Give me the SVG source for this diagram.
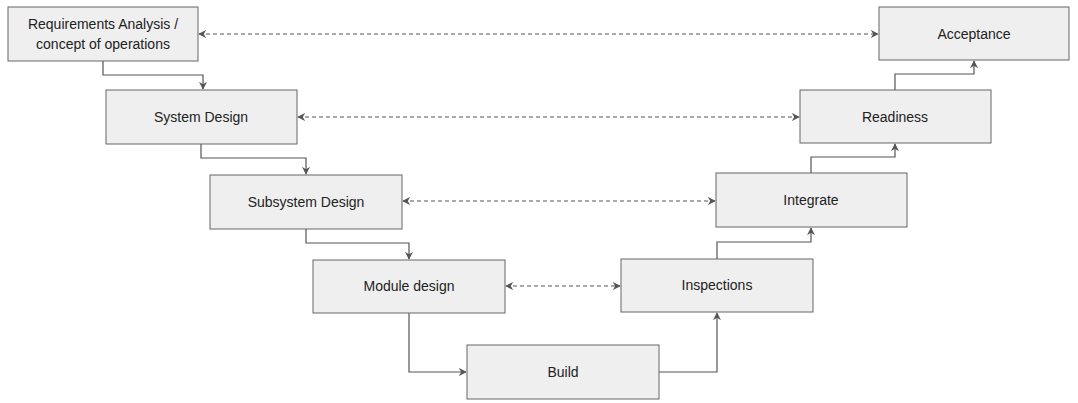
<svg xmlns="http://www.w3.org/2000/svg" width="1078" height="403" viewBox="0 0 1078 403">
<style>
.n rect{fill:#efefef;stroke:#666;stroke-width:1}
.n text{font-family:"Liberation Sans",Arial,sans-serif;font-size:14px;fill:#222;text-anchor:middle;dominant-baseline:central}
.c path{fill:none;stroke:#555;stroke-width:1.2}
.c .d{stroke-dasharray:4 3}
</style>
<defs>
<marker id="a" viewBox="0 0 10 10" refX="9" refY="5" markerWidth="8" markerHeight="8" orient="auto-start-reverse" markerUnits="userSpaceOnUse"><path d="M0,0 L10,5 L0,10 L3,5 Z" fill="#555"/></marker>
</defs>
<rect width="1078" height="403" fill="#fff"/>
<g class="c">
<path d="M103,61 V75 H203 V89" marker-end="url(#a)"/>
<path d="M201,144 V158 H306 V174" marker-end="url(#a)"/>
<path d="M306,229 V243 H409 V259" marker-end="url(#a)"/>
<path d="M409,313 V372 H466" marker-end="url(#a)"/>
<path d="M659,372 H717 V313" marker-end="url(#a)"/>
<path d="M717,259 V242 H811 V228" marker-end="url(#a)"/>
<path d="M811,173 V157 H895 V144" marker-end="url(#a)"/>
<path d="M895,90 V74 H974 V61" marker-end="url(#a)"/>
<path class="d" d="M199,34 H878" marker-start="url(#a)" marker-end="url(#a)"/>
<path class="d" d="M298,117 H799" marker-start="url(#a)" marker-end="url(#a)"/>
<path class="d" d="M403,201 H715" marker-start="url(#a)" marker-end="url(#a)"/>
<path class="d" d="M506,286 H620" marker-start="url(#a)" marker-end="url(#a)"/>
</g>
<g id="req" class="n"><rect x="8" y="7" width="190" height="54"/><text x="103" y="24">Requirements Analysis /</text><text x="103" y="44">concept of operations</text></g>
<g id="acc" class="n"><rect x="879" y="7" width="190" height="53"/><text x="974" y="34">Acceptance</text></g>
<g id="sys" class="n"><rect x="106" y="90" width="191" height="54"/><text x="201" y="117">System Design</text></g>
<g id="rdy" class="n"><rect x="800" y="90" width="191" height="53"/><text x="895" y="117">Readiness</text></g>
<g id="sub" class="n"><rect x="210" y="175" width="192" height="54"/><text x="306" y="202">Subsystem Design</text></g>
<g id="int" class="n"><rect x="716" y="173" width="191" height="54"/><text x="811" y="200">Integrate</text></g>
<g id="mod" class="n"><rect x="313" y="260" width="192" height="53"/><text x="409" y="286">Module design</text></g>
<g id="ins" class="n"><rect x="621" y="259" width="192" height="53"/><text x="717" y="285">Inspections</text></g>
<g id="bld" class="n"><rect x="467" y="345" width="192" height="54"/><text x="563" y="372">Build</text></g>
</svg>
